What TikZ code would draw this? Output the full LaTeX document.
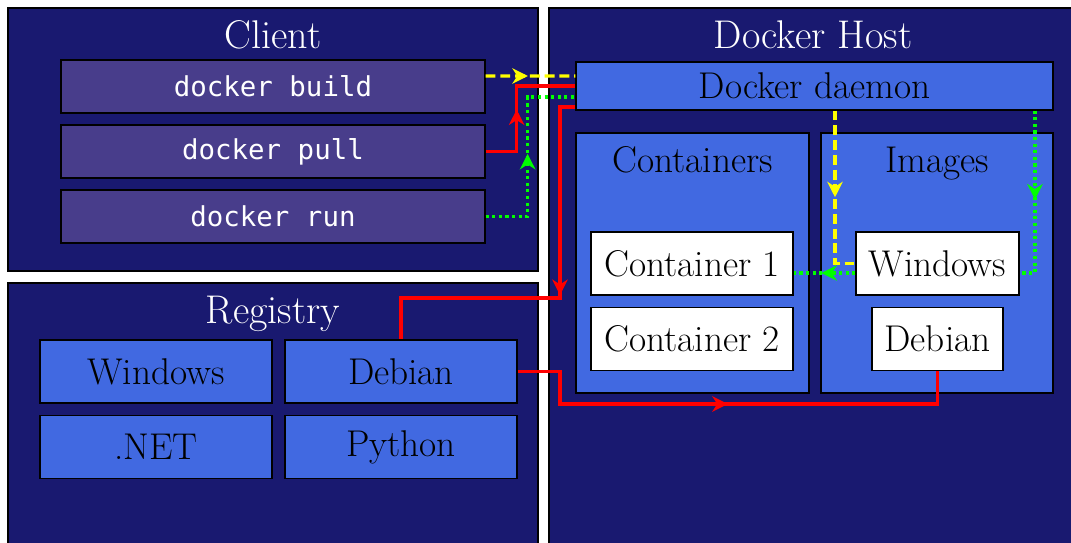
\documentclass[tikz,border=0pt]{standalone}
\usepackage{fontspec}
\setmonofont{DejaVu Sans Mono}
\usetikzlibrary{arrows.meta,decorations.markings}

\definecolor{hostblue}{HTML}{191970}
\definecolor{cmdblue}{HTML}{483D8B}
\definecolor{boxblue}{HTML}{4169E1}
\definecolor{pathyellow}{HTML}{FFFF00}
\definecolor{pathgreen}{HTML}{00FF00}
\definecolor{pathred}{HTML}{FF0000}

\tikzset{
	bigbox/.style={draw=black, line width=0.9pt, fill=hostblue},
	panel/.style={draw=black, line width=0.9pt, fill=boxblue},
	title/.style={text=white, anchor=base, font=\fontsize{28.5}{32}\selectfont},
	subtitle/.style={text=black, anchor=base, font=\fontsize{26.5}{30}\selectfont},
	cmdbox/.style={draw=black, line width=0.9pt, fill=cmdblue, text=white,
		minimum width=10.6cm, minimum height=1.325cm, font=\ttfamily\fontsize{19.5}{22}\selectfont},
	repobox/.style={draw=black, line width=0.9pt, fill=boxblue,
		minimum width=5.8cm, minimum height=1.575cm, font=\fontsize{26.5}{30}\selectfont},
	whitebox/.style={draw=black, line width=0.9pt, fill=white,
		minimum height=1.575cm, font=\fontsize{26.5}{30}\selectfont},
	midarrow/.style={postaction={decorate}, decoration={markings,
		mark=at position #1 with {\arrow{Stealth[length=11pt,width=11pt,inset=3.5pt]}}}},
	buildpath/.style={pathyellow, line width=2.2pt, dash pattern=on 7pt off 3.5pt},
	pullpath/.style={pathred, line width=2.2pt},
	runpath/.style={pathgreen, line width=2.2pt, dash pattern=on 2.2pt off 2.5pt},
}

\begin{document}
\begin{tikzpicture}

	% picture area, 1 px of the layout = 0.025cm
	\useasboundingbox (0,0) rectangle (26.775,-13.575);
	\clip (0,0) rectangle (26.775,-13.575);

	% --- the three big areas ---
	\node[bigbox, minimum width=13.25cm, minimum height=6.575cm] (client) at (6.825,-3.4875) {};
	\node[bigbox, minimum width=13.25cm, minimum height=6.925cm] (registry) at (6.825,-10.5375) {};
	\node[bigbox, minimum width=13.4cm, minimum height=13.8cm] (host) at (20.425,-7.1) {};

	% titles sit on their baselines
	\node[title] (clienttitle) at (6.825,-1.22) {Client};
	\node[title] (hosttitle) at (20.325,-1.22) {Docker Host};
	\node[title] (registrytitle) at (6.825,-8.09) {Registry};

	% --- client commands ---
	\node[cmdbox] (build) at (6.825,-2.1625) {docker build};
	\node[cmdbox] (pull) at (6.825,-3.7875) {docker pull};
	\node[cmdbox] (run) at (6.825,-5.4125) {docker run};

	% --- docker host ---
	\node[panel, minimum width=11.925cm, minimum height=1.2cm, font=\fontsize{26.5}{30}\selectfont]
		(daemon) at (20.3625,-2.15) {Docker daemon};

	\node[panel, minimum width=5.825cm, minimum height=6.5cm] (containers) at (17.3125,-6.575) {};
	\node[panel, minimum width=5.8cm, minimum height=6.5cm] (images) at (23.425,-6.575) {};
	\node[subtitle] (containerstitle) at (17.3125,-4.32) {Containers};
	\node[subtitle] (imagestitle) at (23.425,-4.32) {Images};

	\node[whitebox, minimum width=5.05cm] (cont1) at (17.3,-6.5875) {Container 1};
	\node[whitebox, minimum width=5.05cm] (cont2) at (17.3,-8.475) {Container 2};
	\node[whitebox, minimum width=4.075cm] (winimg) at (23.4375,-6.5875) {Windows};
	\node[whitebox, minimum width=3.275cm] (debimg) at (23.4375,-8.475) {Debian};

	% --- registry repositories ---
	\node[repobox] (regwin) at (3.9,-9.2875) {Windows};
	\node[repobox] (regdeb) at (10.025,-9.2875) {Debian};
	\node[repobox] (regnet) at (3.9,-11.175) {.NET};
	\node[repobox] (regpy) at (10.025,-11.175) {Python};

	% bend points of the red path
	\coordinate (pullbend) at (14.0,-7.45);
	\coordinate (copybend) at (14.0,-10.1);

	% docker build (yellow)
	\draw[buildpath, midarrow=0.47] ([yshift=0.2625cm]build.east) -- ([yshift=0.25cm]daemon.west);
	\draw[buildpath, midarrow=0.5] ([xshift=0.5125cm]daemon.south) |- (winimg.west);

	% docker pull (red)
	\draw[pullpath, midarrow=0.47] (pull.east) -- ++(0.775,0) |- (daemon.west);
	\draw[pullpath, midarrow=0.5] ([yshift=-0.525cm]daemon.west) -| (pullbend) -| (regdeb.north);
	\draw[pullpath, midarrow=0.5] (regdeb.east) -| (copybend) -| (debimg.south);

	% docker run (green)
	\draw[runpath, midarrow=0.5] (run.east) -- ++(1.05,0) |- ([yshift=-0.275cm]daemon.west);
	\draw[runpath, midarrow=0.5] ([xshift=5.5125cm]daemon.south) |- ([yshift=-0.2375cm]winimg.east);
	\draw[runpath, midarrow=0.55] ([yshift=-0.2375cm]winimg.west) -- ([yshift=-0.2375cm]cont1.east);

\end{tikzpicture}
\end{document}
